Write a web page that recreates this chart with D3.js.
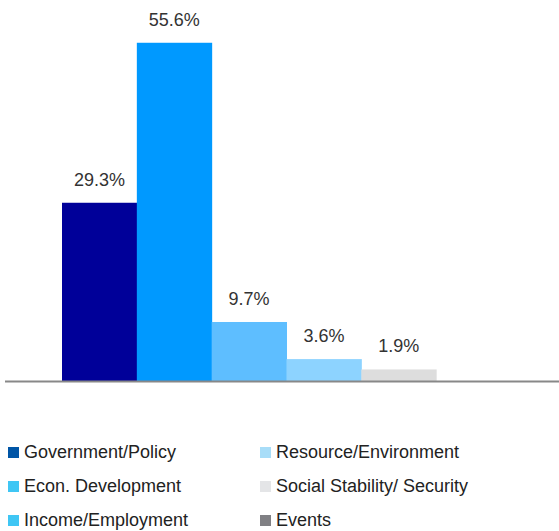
<!DOCTYPE html>
<html>
<head>
<meta charset="utf-8">
<script src="https://cdn.jsdelivr.net/npm/d3@7"></script>
<style>
  body { margin: 0; background: #fff; }
  svg { display: block; font-family: "Liberation Sans", Arial, sans-serif; }
</style>
</head>
<body>
<svg id="chart" width="559" height="531"></svg>
<script>
// categories, in legend order (column-wise)
var categories = ["Government/Policy", "Econ. Development", "Income/Employment",
                  "Resource/Environment", "Social Stability/ Security", "Events"];
var shares = [29.3, 55.6, 9.7, 3.6, 1.9, 0];
var barColors = ["#000099", "#0099ff", "#5ebeff", "#8dd3ff", "#dddddd", "#808080"];
var legendColors = ["#0055a6", "#3fc6f4", "#3fc6f4", "#a8ddf8", "#e4e5e7", "#808084"];

var svg = d3.select("#chart");
var baseY = 381;

var x = d3.scaleBand().domain(categories).range([62, 511]).padding(0);
var y = d3.scaleLinear().domain([0, 60]).range([baseY, 16]);

var data = categories.map(function (c, i) {
    return { name: c, v: shares[i], color: barColors[i], lcolor: legendColors[i] };
});

// bars
svg.selectAll("rect.bar")
    .data(data.filter(function (d) { return d.v > 0; }))
    .enter()
    .append("rect")
    .attr("class", "bar")
    .attr("x", function (d) { return x(d.name); })
    .attr("width", x.bandwidth() + 0.5)
    .attr("y", function (d) { return y(d.v); })
    .attr("height", function (d) { return baseY - y(d.v); })
    .attr("fill", function (d) { return d.color; });

// value labels
svg.selectAll("text.val")
    .data(data.filter(function (d) { return d.v > 0; }))
    .enter()
    .append("text")
    .attr("class", "val")
    .attr("x", function (d) { return x(d.name) + x.bandwidth() / 2; })
    .attr("y", function (d) { return y(d.v) - 17; })
    .attr("text-anchor", "middle")
    .attr("font-size", 18)
    .attr("fill", "#333")
    .text(function (d) { return d.v.toFixed(1) + "%"; });

// baseline
svg.append("line")
    .attr("x1", 5).attr("x2", 559)
    .attr("y1", baseY + 0.5).attr("y2", baseY + 0.5)
    .attr("stroke", "#888").attr("stroke-width", 2);

// legend, 2 columns of 3
var legend = svg.selectAll("g.leg")
    .data(data)
    .enter()
    .append("g")
    .attr("class", "leg")
    .attr("transform", function (d, i) {
        var col = Math.floor(i / 3), row = i % 3;
        return "translate(" + (col === 0 ? 8 : 260) + "," + (458 + row * 34) + ")";
    });

legend.append("rect")
    .attr("x", 0).attr("y", -11)
    .attr("width", 11).attr("height", 11)
    .attr("fill", function (d) { return d.lcolor; });

legend.append("text")
    .attr("x", 16).attr("y", 0)
    .attr("font-size", 18)
    .attr("fill", "#222")
    .text(function (d) { return d.name; });
</script>
</body>
</html>
